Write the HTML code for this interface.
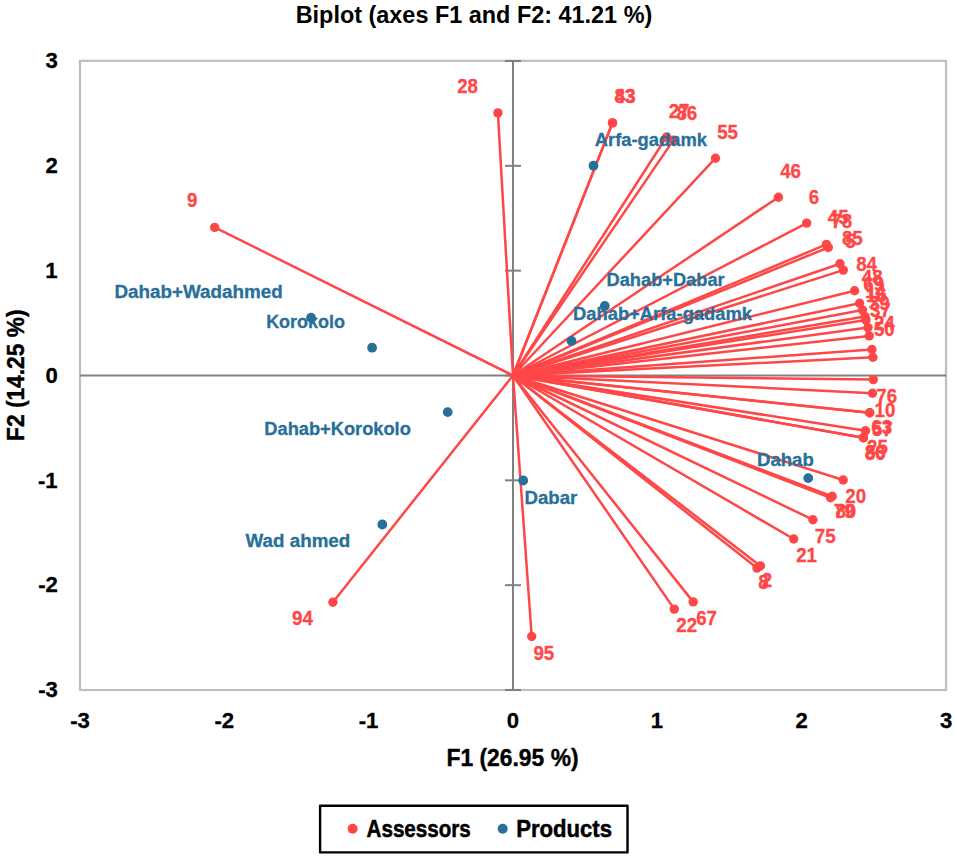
<!DOCTYPE html>
<html><head><meta charset="utf-8"><title>Biplot</title>
<style>html,body{margin:0;padding:0;background:#fff;}svg{display:block;}
text{font-family:"Liberation Sans",sans-serif;font-weight:bold;white-space:pre;}</style></head>
<body><svg width="957" height="860" viewBox="0 0 957 860">
<rect x="0" y="0" width="957" height="860" fill="#fff"/>
<text x="295.66" y="22.80" font-size="23.62" textLength="356.63" lengthAdjust="spacingAndGlyphs" fill="#000">Biplot (axes F1 and F2: 41.21 %)</text>
<rect x="80" y="60.8" width="866" height="629.2" fill="none" stroke="#BEBEBE" stroke-width="2.2"/>
<line x1="80" y1="375.5" x2="946" y2="375.5" stroke="#808080" stroke-width="2"/>
<line x1="513.0" y1="61" x2="513.0" y2="690" stroke="#808080" stroke-width="2"/>
<line x1="505" y1="61.00" x2="521" y2="61.00" stroke="#808080" stroke-width="2"/>
<line x1="505" y1="165.83" x2="521" y2="165.83" stroke="#808080" stroke-width="2"/>
<line x1="505" y1="270.67" x2="521" y2="270.67" stroke="#808080" stroke-width="2"/>
<line x1="505" y1="375.50" x2="521" y2="375.50" stroke="#808080" stroke-width="2"/>
<line x1="505" y1="480.33" x2="521" y2="480.33" stroke="#808080" stroke-width="2"/>
<line x1="505" y1="585.17" x2="521" y2="585.17" stroke="#808080" stroke-width="2"/>
<line x1="505" y1="690.00" x2="521" y2="690.00" stroke="#808080" stroke-width="2"/>
<g stroke="#000" stroke-width="0.3">
<text x="70.16" y="727.6" font-size="22.11" fill="#000">-3</text>
<text x="214.49" y="727.6" font-size="22.11" fill="#000">-2</text>
<text x="358.72" y="727.6" font-size="22.11" fill="#000">-1</text>
<text x="506.81" y="727.6" font-size="22.11" fill="#000">0</text>
<text x="650.81" y="727.6" font-size="22.11" fill="#000">1</text>
<text x="795.59" y="727.6" font-size="22.11" fill="#000">2</text>
<text x="940.03" y="727.6" font-size="22.11" fill="#000">3</text>
<text x="45.50" y="68.30" font-size="22.11" fill="#000">3</text>
<text x="45.50" y="173.13" font-size="22.11" fill="#000">2</text>
<text x="45.28" y="277.97" font-size="22.11" fill="#000">1</text>
<text x="45.50" y="382.80" font-size="22.11" fill="#000">0</text>
<text x="37.98" y="487.63" font-size="22.11" fill="#000">-1</text>
<text x="38.20" y="592.47" font-size="22.11" fill="#000">-2</text>
<text x="38.20" y="697.30" font-size="22.11" fill="#000">-3</text>
</g>
<g stroke="#000" stroke-width="0.4">
<text x="446.50" y="765.90" font-size="23.91" textLength="132.05" lengthAdjust="spacingAndGlyphs" fill="#000">F1 (26.95 %)</text>
<text transform="translate(24,439.4) rotate(-90)" x="-1.59" y="0" font-size="23.62" textLength="131.44" lengthAdjust="spacingAndGlyphs" fill="#000">F2 (14.25 %)</text>
</g>
<g stroke="#FF4747" stroke-width="2.5" stroke-linecap="round">
<line x1="513.0" y1="375.5" x2="497.9" y2="112.9"/>
<line x1="513.0" y1="375.5" x2="612.5" y2="122.9"/>
<line x1="513.0" y1="375.5" x2="612.5" y2="122.9"/>
<line x1="513.0" y1="375.5" x2="666.5" y2="137.0"/>
<line x1="513.0" y1="375.5" x2="673.4" y2="140.1"/>
<line x1="513.0" y1="375.5" x2="715.5" y2="158.2"/>
<line x1="513.0" y1="375.5" x2="778.4" y2="197.2"/>
<line x1="513.0" y1="375.5" x2="806.7" y2="223.1"/>
<line x1="513.0" y1="375.5" x2="826.4" y2="244.4"/>
<line x1="513.0" y1="375.5" x2="828.3" y2="247.5"/>
<line x1="513.0" y1="375.5" x2="840.0" y2="263.8"/>
<line x1="513.0" y1="375.5" x2="843.3" y2="270.1"/>
<line x1="513.0" y1="375.5" x2="854.6" y2="290.8"/>
<line x1="513.0" y1="375.5" x2="859.6" y2="303.2"/>
<line x1="513.0" y1="375.5" x2="862.5" y2="310.1"/>
<line x1="513.0" y1="375.5" x2="865.0" y2="316.5"/>
<line x1="513.0" y1="375.5" x2="866.0" y2="320.1"/>
<line x1="513.0" y1="375.5" x2="868.0" y2="327.6"/>
<line x1="513.0" y1="375.5" x2="869.2" y2="335.9"/>
<line x1="513.0" y1="375.5" x2="871.9" y2="349.5"/>
<line x1="513.0" y1="375.5" x2="872.9" y2="357.3"/>
<line x1="513.0" y1="375.5" x2="873.3" y2="379.6"/>
<line x1="513.0" y1="375.5" x2="872.5" y2="393.2"/>
<line x1="513.0" y1="375.5" x2="869.7" y2="412.7"/>
<line x1="513.0" y1="375.5" x2="869.7" y2="412.7"/>
<line x1="513.0" y1="375.5" x2="865.5" y2="430.8"/>
<line x1="513.0" y1="375.5" x2="863.4" y2="437.8"/>
<line x1="513.0" y1="375.5" x2="863.4" y2="437.8"/>
<line x1="513.0" y1="375.5" x2="843.2" y2="480.0"/>
<line x1="513.0" y1="375.5" x2="832.2" y2="496.3"/>
<line x1="513.0" y1="375.5" x2="830.5" y2="497.8"/>
<line x1="513.0" y1="375.5" x2="812.9" y2="519.7"/>
<line x1="513.0" y1="375.5" x2="793.7" y2="539.0"/>
<line x1="513.0" y1="375.5" x2="757.0" y2="568.1"/>
<line x1="513.0" y1="375.5" x2="760.4" y2="565.9"/>
<line x1="513.0" y1="375.5" x2="693.2" y2="601.9"/>
<line x1="513.0" y1="375.5" x2="674.3" y2="609.1"/>
<line x1="513.0" y1="375.5" x2="531.7" y2="636.5"/>
<line x1="513.0" y1="375.5" x2="332.9" y2="602.2"/>
<line x1="513.0" y1="375.5" x2="214.7" y2="227.4"/>
</g>
<g fill="#FF4747">
<circle cx="497.9" cy="112.9" r="4.7"/>
<circle cx="612.5" cy="122.9" r="4.7"/>
<circle cx="612.5" cy="122.9" r="4.7"/>
<circle cx="666.5" cy="137.0" r="4.7"/>
<circle cx="673.4" cy="140.1" r="4.7"/>
<circle cx="715.5" cy="158.2" r="4.7"/>
<circle cx="778.4" cy="197.2" r="4.7"/>
<circle cx="806.7" cy="223.1" r="4.7"/>
<circle cx="826.4" cy="244.4" r="4.7"/>
<circle cx="828.3" cy="247.5" r="4.7"/>
<circle cx="840.0" cy="263.8" r="4.7"/>
<circle cx="843.3" cy="270.1" r="4.7"/>
<circle cx="854.6" cy="290.8" r="4.7"/>
<circle cx="859.6" cy="303.2" r="4.7"/>
<circle cx="862.5" cy="310.1" r="4.7"/>
<circle cx="865.0" cy="316.5" r="4.7"/>
<circle cx="866.0" cy="320.1" r="4.7"/>
<circle cx="868.0" cy="327.6" r="4.7"/>
<circle cx="869.2" cy="335.9" r="4.7"/>
<circle cx="871.9" cy="349.5" r="4.7"/>
<circle cx="872.9" cy="357.3" r="4.7"/>
<circle cx="873.3" cy="379.6" r="4.7"/>
<circle cx="872.5" cy="393.2" r="4.7"/>
<circle cx="869.7" cy="412.7" r="4.7"/>
<circle cx="869.7" cy="412.7" r="4.7"/>
<circle cx="865.5" cy="430.8" r="4.7"/>
<circle cx="863.4" cy="437.8" r="4.7"/>
<circle cx="863.4" cy="437.8" r="4.7"/>
<circle cx="843.2" cy="480.0" r="4.7"/>
<circle cx="832.2" cy="496.3" r="4.7"/>
<circle cx="830.5" cy="497.8" r="4.7"/>
<circle cx="812.9" cy="519.7" r="4.7"/>
<circle cx="793.7" cy="539.0" r="4.7"/>
<circle cx="757.0" cy="568.1" r="4.7"/>
<circle cx="760.4" cy="565.9" r="4.7"/>
<circle cx="693.2" cy="601.9" r="4.7"/>
<circle cx="674.3" cy="609.1" r="4.7"/>
<circle cx="531.7" cy="636.5" r="4.7"/>
<circle cx="332.9" cy="602.2" r="4.7"/>
<circle cx="214.7" cy="227.4" r="4.7"/>
</g>
<g fill="#286F9A">
<circle cx="593.5" cy="165.7" r="4.9"/>
<circle cx="604.8" cy="306.0" r="4.9"/>
<circle cx="571.5" cy="340.9" r="4.9"/>
<circle cx="808.2" cy="478.1" r="4.9"/>
<circle cx="523.2" cy="480.5" r="4.9"/>
<circle cx="382.3" cy="524.5" r="4.9"/>
<circle cx="447.7" cy="412.1" r="4.9"/>
<circle cx="311.0" cy="317.6" r="4.9"/>
<circle cx="372.1" cy="347.7" r="4.9"/>
</g>
<g fill="#FF4747" stroke="#FF4747" stroke-width="0.3">
<text x="457.14" y="93.20" font-size="19.60" textLength="20.82" lengthAdjust="spacingAndGlyphs">28</text>
<text x="614.81" y="103.20" font-size="19.60" textLength="20.82" lengthAdjust="spacingAndGlyphs">43</text>
<text x="614.44" y="103.20" font-size="19.60" textLength="20.82" lengthAdjust="spacingAndGlyphs">83</text>
<text x="668.64" y="118.00" font-size="19.60" textLength="20.82" lengthAdjust="spacingAndGlyphs">27</text>
<text x="676.44" y="119.60" font-size="19.60" textLength="20.82" lengthAdjust="spacingAndGlyphs">86</text>
<text x="717.14" y="138.50" font-size="19.60" textLength="20.82" lengthAdjust="spacingAndGlyphs">55</text>
<text x="780.21" y="178.40" font-size="19.60" textLength="20.82" lengthAdjust="spacingAndGlyphs">46</text>
<text x="808.85" y="203.60" font-size="19.60" textLength="10.41" lengthAdjust="spacingAndGlyphs">6</text>
<text x="827.81" y="224.30" font-size="19.60" textLength="20.82" lengthAdjust="spacingAndGlyphs">45</text>
<text x="831.25" y="228.00" font-size="19.60" textLength="20.82" lengthAdjust="spacingAndGlyphs">78</text>
<text x="841.94" y="244.50" font-size="19.60" textLength="20.82" lengthAdjust="spacingAndGlyphs">85</text>
<text x="845.14" y="248.30" font-size="19.60" textLength="10.41" lengthAdjust="spacingAndGlyphs">5</text>
<text x="856.14" y="271.10" font-size="19.60" textLength="20.82" lengthAdjust="spacingAndGlyphs">84</text>
<text x="861.81" y="283.70" font-size="19.60" textLength="20.82" lengthAdjust="spacingAndGlyphs">48</text>
<text x="863.25" y="290.50" font-size="19.60" textLength="20.82" lengthAdjust="spacingAndGlyphs">69</text>
<text x="864.88" y="298.00" font-size="19.60" textLength="20.82" lengthAdjust="spacingAndGlyphs">14</text>
<text x="865.88" y="302.00" font-size="19.60" textLength="20.82" lengthAdjust="spacingAndGlyphs">16</text>
<text x="868.93" y="309.50" font-size="19.60" textLength="20.82" lengthAdjust="spacingAndGlyphs">39</text>
<text x="869.93" y="317.20" font-size="19.60" textLength="20.82" lengthAdjust="spacingAndGlyphs">37</text>
<text x="873.94" y="329.70" font-size="19.60" textLength="20.82" lengthAdjust="spacingAndGlyphs">24</text>
<text x="873.94" y="336.00" font-size="19.60" textLength="20.82" lengthAdjust="spacingAndGlyphs">50</text>
<text x="876.25" y="402.90" font-size="19.60" textLength="20.82" lengthAdjust="spacingAndGlyphs">76</text>
<text x="874.48" y="417.20" font-size="19.60" textLength="20.82" lengthAdjust="spacingAndGlyphs">10</text>
<text x="871.35" y="434.40" font-size="19.60" textLength="20.82" lengthAdjust="spacingAndGlyphs">63</text>
<text x="871.94" y="436.00" font-size="19.60" textLength="20.82" lengthAdjust="spacingAndGlyphs">57</text>
<text x="867.04" y="453.60" font-size="19.60" textLength="20.82" lengthAdjust="spacingAndGlyphs">25</text>
<text x="864.94" y="460.30" font-size="19.60" textLength="20.82" lengthAdjust="spacingAndGlyphs">80</text>
<text x="864.94" y="459.00" font-size="19.60" textLength="20.82" lengthAdjust="spacingAndGlyphs">86</text>
<text x="845.24" y="502.90" font-size="19.60" textLength="20.82" lengthAdjust="spacingAndGlyphs">20</text>
<text x="833.75" y="518.00" font-size="19.60" textLength="20.82" lengthAdjust="spacingAndGlyphs">79</text>
<text x="835.44" y="518.00" font-size="19.60" textLength="20.82" lengthAdjust="spacingAndGlyphs">80</text>
<text x="814.85" y="543.00" font-size="19.60" textLength="20.82" lengthAdjust="spacingAndGlyphs">75</text>
<text x="796.14" y="561.90" font-size="19.60" textLength="20.82" lengthAdjust="spacingAndGlyphs">21</text>
<text x="758.14" y="589.30" font-size="19.60" textLength="10.41" lengthAdjust="spacingAndGlyphs">8</text>
<text x="761.74" y="587.30" font-size="19.60" textLength="10.41" lengthAdjust="spacingAndGlyphs">2</text>
<text x="696.15" y="624.90" font-size="19.60" textLength="20.82" lengthAdjust="spacingAndGlyphs">67</text>
<text x="676.24" y="631.60" font-size="19.60" textLength="20.82" lengthAdjust="spacingAndGlyphs">22</text>
<text x="533.44" y="659.70" font-size="19.60" textLength="20.82" lengthAdjust="spacingAndGlyphs">95</text>
<text x="292.04" y="625.30" font-size="19.60" textLength="20.82" lengthAdjust="spacingAndGlyphs">94</text>
<text x="187.04" y="207.00" font-size="19.60" textLength="10.41" lengthAdjust="spacingAndGlyphs">9</text>
</g>
<g stroke="#286F9A" stroke-width="0.3">
<text x="594.75" y="145.80" font-size="18.45" textLength="112.30" lengthAdjust="spacingAndGlyphs" fill="#286F9A">Arfa-gadamk</text>
<text x="606.52" y="285.80" font-size="18.45" textLength="118.15" lengthAdjust="spacingAndGlyphs" fill="#286F9A">Dahab+Dabar</text>
<text x="573.01" y="320.00" font-size="18.45" textLength="179.04" lengthAdjust="spacingAndGlyphs" fill="#286F9A">Dahab+Arfa-gadamk</text>
<text x="757.00" y="466.40" font-size="18.45" textLength="56.76" lengthAdjust="spacingAndGlyphs" fill="#286F9A">Dahab</text>
<text x="524.50" y="503.50" font-size="18.45" textLength="52.77" lengthAdjust="spacingAndGlyphs" fill="#286F9A">Dabar</text>
<text x="245.50" y="547.20" font-size="18.45" textLength="104.82" lengthAdjust="spacingAndGlyphs" fill="#286F9A">Wad ahmed</text>
<text x="264.32" y="434.60" font-size="18.45" textLength="146.49" lengthAdjust="spacingAndGlyphs" fill="#286F9A">Dahab+Korokolo</text>
<text x="266.14" y="327.80" font-size="18.45" textLength="78.85" lengthAdjust="spacingAndGlyphs" fill="#286F9A">Korokolo</text>
<text x="114.48" y="298.00" font-size="18.45" textLength="168.18" lengthAdjust="spacingAndGlyphs" fill="#286F9A">Dahab+Wadahmed</text>
</g>
<rect x="320.1" y="805.7" width="307.4" height="46.7" fill="none" stroke="#000" stroke-width="2.4" stroke-linejoin="round"/>
<circle cx="352.6" cy="828.7" r="5" fill="#FF4747"/>
<circle cx="502.7" cy="828.7" r="5" fill="#286F9A"/>
<g stroke="#000" stroke-width="0.5">
<text x="366.58" y="836.70" font-size="24.35" textLength="104.12" lengthAdjust="spacingAndGlyphs" fill="#000">Assessors</text>
<text x="516.15" y="836.60" font-size="24.20" textLength="95.92" lengthAdjust="spacingAndGlyphs" fill="#000">Products</text>
</g>
</svg></body></html>
